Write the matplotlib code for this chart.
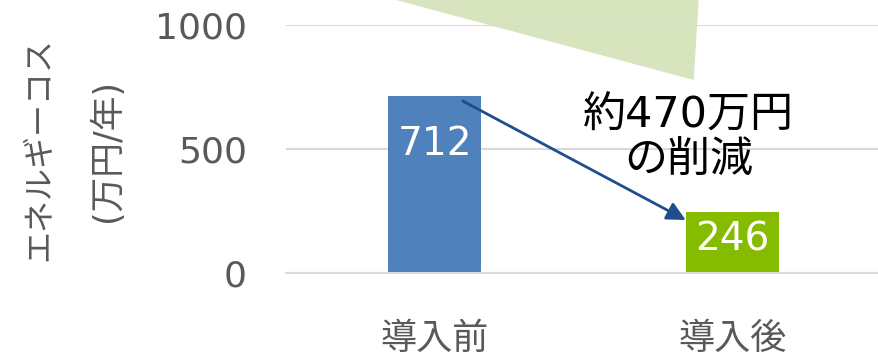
import matplotlib.pyplot as plt
from matplotlib.patches import Polygon

plt.rcParams['font.family'] = ['DejaVu Sans', 'Noto Sans CJK JP']

# Energy cost before / after
categories = ['導入前', '導入後']
costs = [712, 246]
bar_colors = ['#4F81BD', '#86BC00']
yticks = [0, 500, 1000]
note = '約470万円\nの削減'

W, H = 879, 356
fig = plt.figure(figsize=(W / 100, H / 100), dpi=100)
ax = fig.add_axes([286 / W, (H - 273) / H, (881 - 286) / W, (273 - 25) / H])

x = range(len(categories))
ax.bar(x, costs, width=0.313, color=bar_colors, zorder=2)
ax.set_xlim(-0.5, 1.5)
ax.set_ylim(0, 1000)
ax.set_yticks(yticks)
ax.set_xticks(list(x))
ax.set_xticklabels(categories, fontsize=26)
ax.grid(axis='y', color='#D9D9D9', linewidth=1.5, zorder=0)
ax.tick_params(length=0, labelsize=26, labelcolor='#595959')
ax.tick_params(axis='y', pad=28)
ax.tick_params(axis='x', pad=35)
for s in ax.spines.values():
    s.set_visible(False)
ax.spines['bottom'].set_visible(True)
ax.spines['bottom'].set_color('#D9D9D9')
ax.spines['bottom'].set_linewidth(1.5)

# value labels inside the bars, offset below the bar top (points)
label_drop = [-34, -20]
for xi, v, d in zip(x, costs, label_drop):
    ax.annotate(str(v), (xi, v), xytext=(0, d), textcoords='offset points',
                ha='center', va='center', color='white', fontsize=28, zorder=3)

# callout pointer (data coords from pixel positions)
def px(u, v):
    return ((u - 435) / 297.5, (273 - v) / 0.248)

wedge = Polygon([px(389, -2), px(699, -2), px(694, 80)], closed=True,
                facecolor='#D7E4BD', edgecolor='none', clip_on=False, zorder=1)
ax.add_patch(wedge)

# reduction arrow
ax.annotate('', xy=px(686, 220), xytext=px(463, 101),
            arrowprops=dict(arrowstyle='-|>', color='#1F4E8C', lw=2,
                            mutation_scale=28, shrinkA=0, shrinkB=0),
            zorder=4)
nx, ny = px(689, 138)
ax.text(nx, ny, note, ha='center', va='center', fontsize=31,
        color='black', linespacing=1.1, zorder=4)

# y axis title in two lines
fig.text(40 / W, (H - 149) / H, 'エネルギーコス', rotation=90, ha='center',
         va='center', fontsize=23, color='#595959')
fig.text(107 / W, (H - 150) / H, '(万円/年)', rotation=90, ha='center',
         va='center', fontsize=25, color='#595959')

fig.savefig('out.png', dpi=100)
